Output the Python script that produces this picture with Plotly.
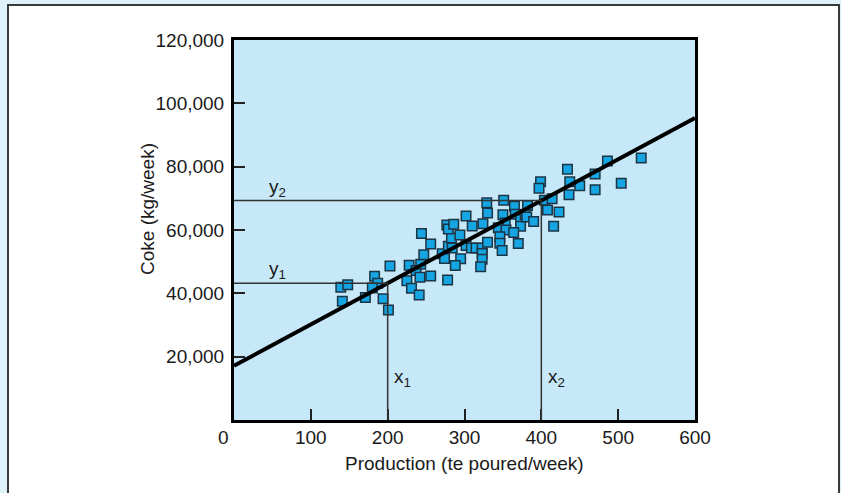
import plotly.graph_objects as go

# Weekly production (te poured) and coke usage (kg) observations
production = [139, 148, 141, 171, 183, 187, 180, 194, 201, 203,
              225, 231, 228, 237, 242, 241, 243, 247, 244, 256,
              256, 278, 271, 274, 279, 284, 283, 277, 279, 286,
              294, 295, 288, 302, 310, 302, 309, 315, 323, 323,
              323, 321, 324, 330, 330, 329, 351, 350, 353, 344,
              354, 346, 346, 349, 365, 366, 373, 373, 364, 370,
              382, 379, 381, 390, 399, 397, 404, 414, 408, 423,
              416, 434, 437, 450, 436, 470, 470, 486, 504, 530]
coke = [41900, 42700, 37500, 38700, 45400, 43200, 41700, 38300, 34700, 48600,
        44000, 41600, 48900, 47200, 45100, 39500, 49200, 52200, 58900, 55600,
        45500, 44200, 52500, 51000, 54900, 54300, 57500, 61600, 60300, 61800,
        58400, 50900, 48800, 64400, 61300, 55100, 54300, 54300, 54300, 52600,
        50800, 48400, 62000, 56100, 65400, 68600, 69400, 64800, 62200, 60700,
        60000, 57900, 55800, 53500, 67500, 65000, 63300, 61200, 59200, 55700,
        67700, 64800, 64100, 62700, 75200, 73200, 69400, 69900, 66300, 65700,
        61200, 79200, 75200, 74000, 71100, 77700, 72700, 81800, 74800, 82700]

# Fitted straight line: coke = intercept + slope * production
intercept = 17100
slope = 130.5
line_x = [0, 600]

# Two reading points on the line
x1, x2 = 200, 400

x_ticks = [100, 200, 300, 400, 500, 600]
y_ticks = [20000, 40000, 60000, 80000, 100000, 120000]

FONT = "Liberation Sans, Arial, Helvetica, sans-serif"
PLOT_BG = "#c6e8f8"
EDGE_BG = "#dff2fb"
GUIDE = "#333333"

line_y = [intercept + slope * v for v in line_x]
y1 = intercept + slope * x1
y2 = intercept + slope * x2

fig = go.Figure()

fig.add_trace(go.Scatter(
    x=production, y=coke, mode="markers",
    marker=dict(symbol="square", size=9.5, color="#14a5e2",
                line=dict(color="#1c3444", width=1.5)),
    hoverinfo="x+y", showlegend=False,
))

fig.add_trace(go.Scatter(
    x=line_x, y=line_y, mode="lines",
    line=dict(color="black", width=4),
    hoverinfo="skip", showlegend=False,
))

shapes = []
# guide lines from the axes to the fitted line
for xv, yv in ((x1, y1), (x2, y2)):
    shapes.append(dict(type="line", xref="x", yref="y", x0=0, x1=xv, y0=yv, y1=yv,
                       line=dict(color=GUIDE, width=1.5), layer="above"))
    shapes.append(dict(type="line", xref="x", yref="y", x0=xv, x1=xv, y0=yv, y1=0,
                       line=dict(color=GUIDE, width=1.5), layer="above"))

# outer page frame: pale strips outside a thin dark border
L, W, B, H = 234, 461, 420, 380
def px(v):
    return (v - L) / W
def py(v):
    return (B - v) / H

shapes += [
    dict(type="rect", xref="paper", yref="paper", x0=px(-5), x1=px(8), y0=py(-5), y1=py(520),
         fillcolor=EDGE_BG, line=dict(width=0), layer="below"),
    dict(type="rect", xref="paper", yref="paper", x0=px(-5), x1=px(846), y0=py(-5), y1=py(5),
         fillcolor=EDGE_BG, line=dict(width=0), layer="below"),
    dict(type="rect", xref="paper", yref="paper", x0=px(839), x1=px(846), y0=py(-5), y1=py(520),
         fillcolor=EDGE_BG, line=dict(width=0), layer="below"),
    dict(type="rect", xref="paper", yref="paper", x0=px(8), x1=px(839), y0=py(5), y1=py(520),
         fillcolor="rgba(0,0,0,0)", line=dict(color="#3a3a3a", width=2), layer="below"),
]

tfont = dict(family=FONT, size=19, color="#1a1a1a")
annotations = [
    dict(x=57, y=y1, yshift=13, text="y<sub>1</sub>", showarrow=False, font=tfont,
         xanchor="center", yanchor="middle"),
    dict(x=57, y=y2, yshift=13, text="y<sub>2</sub>", showarrow=False, font=tfont,
         xanchor="center", yanchor="middle"),
    dict(x=x1, y=13300, xshift=15, text="x<sub>1</sub>", showarrow=False, font=tfont,
         xanchor="center", yanchor="middle"),
    dict(x=x2, y=13300, xshift=15, text="x<sub>2</sub>", showarrow=False, font=tfont,
         xanchor="center", yanchor="middle"),
    # shared origin label
    dict(x=0, y=0, xref="x", yref="y", xshift=-11, yshift=-17, text="0", showarrow=False,
         font=tfont, xanchor="center", yanchor="middle"),
    # axis titles
    dict(x=0.5, y=py(463), xref="paper", yref="paper", text="Production (te poured/week)",
         showarrow=False, font=tfont, xanchor="center", yanchor="middle"),
    dict(x=px(147), y=py(209), xref="paper", yref="paper", text="Coke (kg/week)", textangle=-90,
         showarrow=False, font=tfont, xanchor="center", yanchor="middle"),
]

fig.update_layout(
    width=841, height=493,
    margin=dict(l=L, r=841 - L - W, t=B - H, b=493 - B, pad=0),
    paper_bgcolor="white",
    plot_bgcolor=PLOT_BG,
    font=tfont,
    shapes=shapes,
    annotations=annotations,
    showlegend=False,
)

fig.update_xaxes(
    range=[0, 600], tickvals=x_ticks, ticks="inside", ticklen=11, tickwidth=1.5,
    tickcolor="#222222", showline=True, linewidth=3, linecolor="black", mirror=True,
    showgrid=False, zeroline=False, ticklabelstandoff=-2, tickfont=tfont,
)
fig.update_yaxes(
    range=[0, 120000], tickvals=y_ticks, tickformat=",", ticks="inside", ticklen=11,
    tickwidth=1.5, tickcolor="#222222", showline=True, linewidth=3, linecolor="black",
    mirror=True, showgrid=False, zeroline=False, ticklabelstandoff=3, tickfont=tfont,
)

fig.write_html("out.html")
